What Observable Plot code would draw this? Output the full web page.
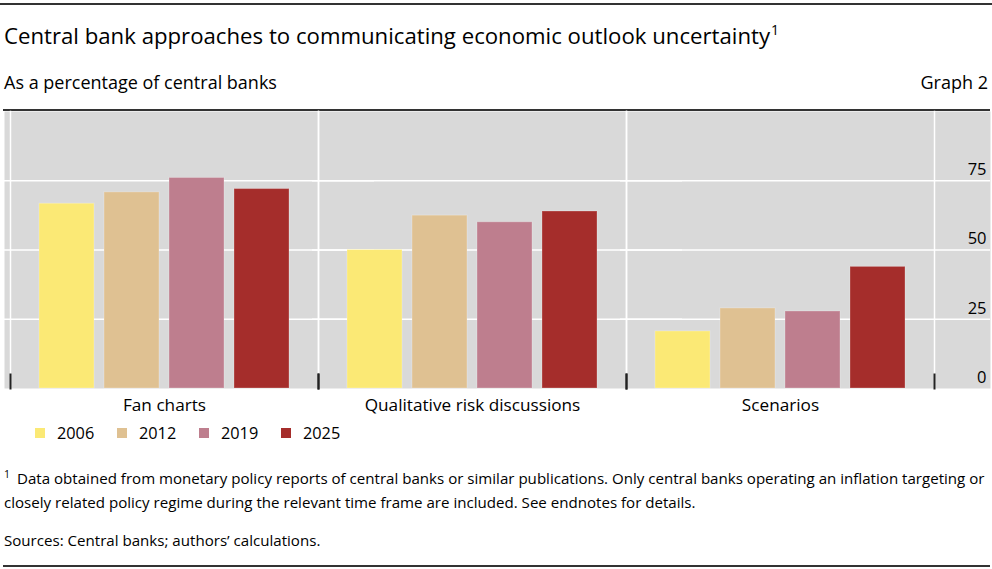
<!DOCTYPE html>
<html>
<head>
<meta charset="utf-8">
<script src="https://cdn.jsdelivr.net/npm/d3@7"></script>
<script src="https://cdn.jsdelivr.net/npm/@observablehq/plot@0.6"></script>
<style>
  html, body { margin: 0; padding: 0; background: #fff; }
  body { font-family: "Open Sans", "Noto Sans", sans-serif; color: #000; }
  #wrap { position: relative; width: 992px; height: 569px; overflow: hidden; }
  .abs { position: absolute; white-space: nowrap; }
  .rule { position: absolute; background: #333; }
  #title { left: 4px; top: 22px; font-size: 22.2px; line-height: 27px; }
  #title sup { font-size: 14px; vertical-align: 0; position: relative; top: -9px; margin-left: 1px; }
  #subtitle { left: 4px; top: 71px; font-size: 18px; line-height: 23px; }
  #graphno { right: 4px; top: 71px; font-size: 18px; line-height: 23px; }
  #chart { position: absolute; left: 0; top: 111px; }
  #legend { position: absolute; left: 35px; top: 423px; display: flex; font-size: 16.3px; line-height: 20px; }
  .item { display: flex; align-items: center; width: 82px; }
  .sw { width: 10px; height: 10px; margin-right: 12px; }
  #fn1 { left: 4px; top: 467px; font-size: 15.1px; line-height: 22px; }
  #fn1 sup { font-size: 10.5px; vertical-align: 0; position: relative; top: -6px; margin-right: 7px; }
  #fn2 { left: 4px; top: 491px; font-size: 15.1px; line-height: 22px; }
  #src { left: 4px; top: 529px; font-size: 15.1px; line-height: 22px; }
</style>
</head>
<body>
<div id="wrap">
  <div class="rule" style="left:0;top:3px;width:992px;height:2px;"></div>
  <div id="title" class="abs">Central bank approaches to communicating economic outlook uncertainty<sup>1</sup></div>
  <div id="subtitle" class="abs">As a percentage of central banks</div>
  <div id="graphno" class="abs">Graph 2</div>
  <div class="rule" style="left:3px;top:109px;width:987px;height:2px;"></div>
  <div id="chart"></div>
  <div id="legend"></div>
  <div id="fn1" class="abs"><sup>1</sup>Data obtained from monetary policy reports of central banks or similar publications. Only central banks operating an inflation targeting or</div>
  <div id="fn2" class="abs">closely related policy regime during the relevant time frame are included. See endnotes for details.</div>
  <div id="src" class="abs">Sources: Central banks; authors’ calculations.</div>
  <div class="rule" style="left:3px;top:565px;width:987px;height:2px;"></div>
</div>
<script>
const categories = ["Fan charts", "Qualitative risk discussions", "Scenarios"];
const years = ["2006", "2012", "2019", "2025"];
const colors = ["#fbe975", "#dfc192", "#be7e8e", "#a52d2b"];
const fanCharts = [66.7, 70.8, 76.0, 72.0];
const qualitativeRisk = [50.0, 62.4, 60.0, 63.9];
const scenarios = [20.6, 28.9, 27.8, 43.9];
const yTicks = [0, 25, 50, 75];

const seriesByCategory = [fanCharts, qualitativeRisk, scenarios];
const data = [];
categories.forEach((c, i) => years.forEach((y, j) => data.push({category: c, year: y, value: seriesByCategory[i][j]})));

const chart = Plot.plot({
  width: 992,
  height: 307,
  marginTop: 0,
  marginBottom: 30,
  marginLeft: 10,
  marginRight: 58,
  style: {fontFamily: "'Open Sans', 'Noto Sans', sans-serif", fontSize: "16px", color: "#000", background: "transparent", overflow: "visible"},
  fx: {domain: categories, padding: 0, label: null},
  x: {domain: years, paddingInner: 0.158, paddingOuter: 0.444, axis: null},
  y: {domain: [0, 100], axis: null},
  color: {domain: years, range: colors},
  marks: [
    Plot.frame({facet: "super", fill: "#d9d9d9", stroke: null, insetLeft: -6, insetRight: -56}),
    Plot.ruleY(yTicks.filter(d => d > 0), {stroke: "#fff", strokeWidth: 1.5, insetLeft: -6, insetRight: -56}),
    Plot.frame({anchor: "left", stroke: "#fff", strokeWidth: 1.5}),
    Plot.frame({anchor: "right", stroke: "#fff", strokeWidth: 1.5}),
    Plot.barY(data, {fx: "category", x: "year", y: "value", fill: "year", stroke: "#fff", strokeOpacity: 0.25, strokeWidth: 1}),
    Plot.frame({anchor: "left", stroke: "#222", strokeWidth: 2, insetTop: 263}),
    Plot.frame({anchor: "right", stroke: "#222", strokeWidth: 2, insetTop: 263}),
    Plot.axisY({anchor: "right", ticks: yTicks, tickSize: 0, tickPadding: 0, textAnchor: "end", dx: 52, dy: -11, fontSize: 16.5, label: null, fill: "#000"}),
    Plot.axisFx({anchor: "bottom", tickSize: 0, tickPadding: 10, fontSize: 17.2, label: null, fill: "#000"})
  ]
});
document.getElementById("chart").appendChild(chart);

const legend = document.getElementById("legend");
years.forEach((y, i) => {
  const item = document.createElement("div");
  item.className = "item";
  const sw = document.createElement("div");
  sw.className = "sw";
  sw.style.background = colors[i];
  const lab = document.createElement("span");
  lab.textContent = y;
  item.appendChild(sw);
  item.appendChild(lab);
  legend.appendChild(item);
});
</script>
</body>
</html>
